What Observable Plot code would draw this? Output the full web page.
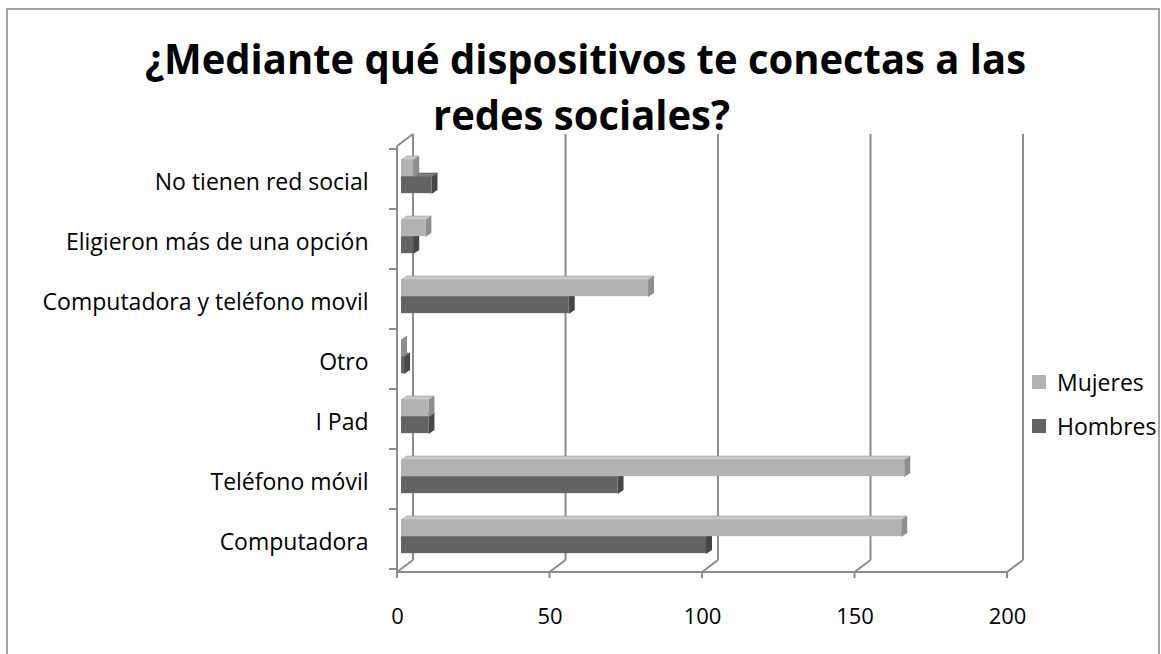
<!DOCTYPE html>
<html>
<head>
<meta charset="utf-8">
<script src="https://cdn.jsdelivr.net/npm/d3@7"></script>
<script src="https://cdn.jsdelivr.net/npm/@observablehq/plot@0.6"></script>
<style>
  body { margin: 0; background: #fff; font-family: "Open Sans", sans-serif; }
  #wrap { position: relative; width: 1161px; height: 654px; overflow: hidden; background: #fff; }
  #border { position: absolute; left: 6px; top: 8px; width: 1154px; height: 700px; border: 2px solid #a3a3a3; box-sizing: border-box; }
  #chart { position: absolute; left: 0; top: 0; }
  #title { position: absolute; left: 0; top: 0; pointer-events: none; }
  #legend { position: absolute; left: 1032px; top: 0; font-family: "Open Sans", sans-serif; font-size: 23px; color: #000; }
  .item { position: absolute; left: 0; white-space: nowrap; display: flex; align-items: center; height: 30px; }
  .sw { width: 14px; height: 14px; margin-right: 11px; }
</style>
</head>
<body>
<div id="wrap">
  <div id="border"></div>
  <div id="chart"></div>
  <svg id="title" width="1161" height="160"></svg>
  <div id="legend"></div>
</div>
<script>
// ---- data ----
const categories = [
  "No tienen red social",
  "Eligieron más de una opción",
  "Computadora y teléfono movil",
  "Otro",
  "I Pad",
  "Teléfono móvil",
  "Computadora"
];
const series = ["Mujeres", "Hombres"];
const mujeres = [4, 8, 81, 0, 9, 165, 164];
const hombres = [10, 4, 55, 1, 9, 71, 100];
const xTicks = [0, 50, 100, 150, 200];
const titleLines = ["¿Mediante qué dispositivos te conectas a las", "redes sociales?"];

// ---- styles ----
const colors = {
  Mujeres: {front: "#b3b3b3", top: "#c9c9c9", side: "#8e8e8e"},
  Hombres: {front: "#636363", top: "#7d7d7d", side: "#474747"}
};
const bandPos = {Mujeres: [11, 28], Hombres: [28, 45]}; // px within band
const BX = 4;            // bar depth shift
const DX = 6, DY = -4;   // bar 3D depth
const WX = 16, WY = -12; // wall depth
const grid = "#8c8c8c";

const data = categories.flatMap((c, i) => [
  {category: c, series: "Mujeres", value: mujeres[i]},
  {category: c, series: "Hombres", value: hombres[i]}
]);

function bw(y, dims) {
  if (typeof y.bandwidth === "function") return y.bandwidth();
  if (typeof y.bandwidth === "number") return y.bandwidth;
  return (dims.height - dims.marginTop - dims.marginBottom) / categories.length;
}

function walls(index, scales, values, dims) {
  const x = scales.x, y = scales.y;
  const top = dims.marginTop, bottom = dims.height - dims.marginBottom;
  const g = d3.create("svg:g").attr("stroke", grid).attr("stroke-width", 2).attr("fill", "none");
  const line = (x1, y1, x2, y2) => g.append("line").attr("x1", x1).attr("y1", y1).attr("x2", x2).attr("y2", y2);
  for (const v of xTicks) {
    line(x(v) + WX, top + WY, x(v) + WX, bottom + WY);
    line(x(v), bottom, x(v) + WX, bottom + WY);
    line(x(v), bottom, x(v), bottom + 6);
  }
  line(x(0), bottom, x(200), bottom);
  line(x(0), top, x(0), bottom);
  line(x(0), top, x(0) + WX, top + WY);
  const b = bw(y, dims);
  for (const c of categories) line(x(0) - 8, y(c), x(0), y(c));
  line(x(0) - 8, y(categories[categories.length - 1]) + b, x(0), y(categories[categories.length - 1]) + b);
  return g.node();
}

function faces(name) {
  const rows = data.filter(d => d.series === name);
  return (index, scales, values, dims) => {
    const x = scales.x, y = scales.y;
    const [o0, o1] = bandPos[name];
    const g = d3.create("svg:g");
    for (const d of rows) {
      const xa = x(0) + BX, xb = x(d.value) + BX;
      const yt = y(d.category) + o0, yb = y(d.category) + o1;
      g.append("polygon")
        .attr("points", [[xa, yt], [xa + DX, yt + DY], [xb + DX, yt + DY], [xb, yt]].map(p => p.join(",")).join(" "))
        .attr("fill", colors[name].top).attr("stroke", colors[name].side).attr("stroke-width", 0.5);
      g.append("polygon")
        .attr("points", [[xb, yt], [xb + DX, yt + DY], [xb + DX, yb + DY], [xb, yb]].map(p => p.join(",")).join(" "))
        .attr("fill", colors[name].side);
    }
    return g.node();
  };
}

function front(name) {
  const b = 426 / categories.length;
  const [o0, o1] = bandPos[name];
  return Plot.barX(data.filter(d => d.series === name), {
    x: "value", y: "category", dx: BX,
    insetTop: o0, insetBottom: b - o1,
    fill: colors[name].front
  });
}

const chart = Plot.plot({
  width: 1161,
  height: 654,
  marginLeft: 397,
  marginRight: 154,
  marginTop: 146,
  marginBottom: 82,
  style: {fontFamily: "Open Sans, sans-serif", fontSize: "22px", color: "#000", background: "transparent"},
  x: {domain: [0, 200]},
  y: {type: "band", domain: categories, padding: 0},
  marks: [
    walls,
    faces("Hombres"),
    front("Hombres"),
    faces("Mujeres"),
    front("Mujeres"),
    Plot.axisX({ticks: xTicks, tickSize: 0, tickPadding: 36, fontSize: 22, label: null}),
    Plot.axisY({tickSize: 0, tickPadding: 29, fontSize: 23, dy: 3, label: null})
  ]
});
document.getElementById("chart").appendChild(chart);

// ---- title ----
const tsvg = d3.select("#title");
const tspec = [{x: 145, y: 74, len: 881}, {x: 433, y: 130, len: 297}];
titleLines.forEach((t, i) => {
  tsvg.append("text").attr("x", tspec[i].x).attr("y", tspec[i].y)
    .attr("textLength", tspec[i].len).attr("lengthAdjust", "spacingAndGlyphs")
    .attr("font-family", "Open Sans, sans-serif").attr("font-weight", 700).attr("font-size", 41)
    .attr("fill", "#000").text(t);
});

// ---- legend ----
const legend = document.getElementById("legend");
const legendY = [382, 426];
series.forEach((s, i) => {
  const it = document.createElement("div");
  it.className = "item";
  it.style.top = (legendY[i] - 15) + "px";
  const sw = document.createElement("span");
  sw.className = "sw";
  sw.style.background = colors[s].front;
  const tx = document.createElement("span");
  tx.textContent = s;
  it.appendChild(sw); it.appendChild(tx);
  legend.appendChild(it);
});
</script>
</body>
</html>
